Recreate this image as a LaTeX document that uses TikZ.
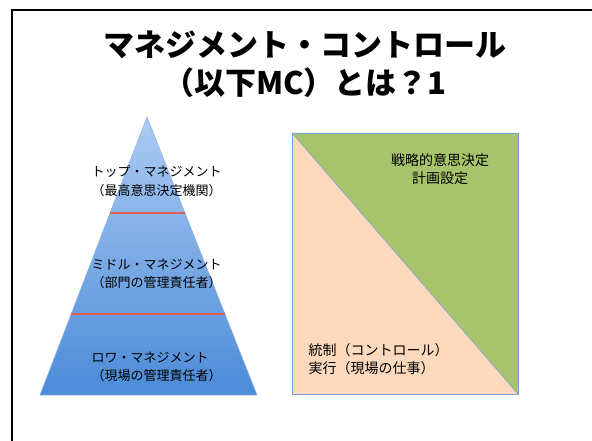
\documentclass[tikz,border=0pt]{standalone}
\usepackage{fontspec}
\setmainfont{Noto Sans CJK JP}
\usepackage{tikz}
\usetikzlibrary{positioning, calc}
\definecolor{pyrtop}{HTML}{ABCBF3}
\definecolor{pyrbot}{HTML}{4B8BD8}
\definecolor{pyredge}{HTML}{8DB3E2}
\definecolor{levelline}{HTML}{E0604F}
\definecolor{planfill}{HTML}{A8C46A}
\definecolor{ctrlfill}{HTML}{FCD9BD}
\definecolor{boxedge}{HTML}{7A9FD4}
\tikzset{
x=1pt, y=-1pt, % one unit is one pixel of the slide, y goes down
heading/.style={font=\bfseries\fontsize{31}{38}\selectfont, align=center}, % slide title
tier/.style={anchor=west, align=left, font=\fontsize{13}{18.5}\selectfont}, % pyramid texts
area/.style={font=\fontsize{14}{18.5}\selectfont}, % texts in the square
divider/.style={levelline, line width=1.3pt}, % red lines between the levels
}

\begin{document}
\begin{tikzpicture}
            \useasboundingbox (0,0) rectangle (592,441);
            \draw[line width=2pt] (12,445) -- (12,10) -- (600,10);
            \node[heading] (title) at (305,64) {マネジメント・コントロール\\（以下MC）とは？1};
            % pyramid
            \coordinate (apex) at (147,117);
            \coordinate (baseL) at (40,395);
            \coordinate (baseR) at (257,395);
            \shade[top color=pyrtop, bottom color=pyrbot, draw=pyredge, line width=0.6pt]
                (apex) -- (baseR) -- (baseL) -- cycle;
            \draw[divider] ($(apex)!0.345!(baseL)$) -- ($(apex)!0.345!(baseR)$);
            \draw[divider] ($(apex)!0.709!(baseL)$) -- ($(apex)!0.709!(baseR)$);
            \node[tier] (top) at (88,181) {トップ・マネジメント\\（最高意思決定機関）};
            \node[tier] (middle) at (88,274) {ミドル・マネジメント\\（部門の管理責任者）};
            \node[tier] (lower) at (88,367) {ロワ・マネジメント\\（現場の管理責任者）};
            % square split by its diagonal
            \coordinate (sqTL) at (292,133);
            \coordinate (sqBR) at (518,394);
            \fill[planfill] (sqTL) -- (sqTL -| sqBR) -- (sqBR) -- cycle;
            \fill[ctrlfill] (sqTL) -- (sqBR) -- (sqBR -| sqTL) -- cycle;
            \draw[boxedge, line width=0.6pt] (sqTL) rectangle (sqBR);
            \draw[boxedge, line width=0.6pt] (sqTL) -- (sqBR);
            \node[area, align=center] (plan) at (440,169) {戦略的意思決定\\計画設定};
            \node[area, anchor=west, align=left] (control) at (305,359) {統制（コントロール）\\実行（現場の仕事）};
        \end{tikzpicture}
\end{document}
